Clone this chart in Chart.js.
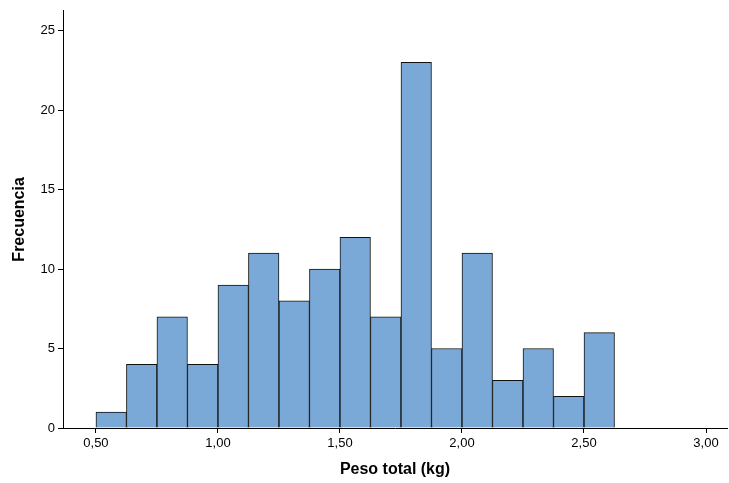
<!DOCTYPE html>
<html><head><meta charset="utf-8">
<script src="https://cdn.jsdelivr.net/npm/chart.js@4"></script>
<style>html,body{margin:0;padding:0;background:#fff}#wrap{width:729px;height:483px}</style>
</head><body><div id="wrap"><canvas id="c"></canvas></div>
<script>
// bin centres (kg) and counts, bin width 0.125
var binCenters = [0.5625,0.6875,0.8125,0.9375,1.0625,1.1875,1.3125,1.4375,1.5625,1.6875,1.8125,1.9375,2.0625,2.1875,2.3125,2.4375,2.5625];
var counts = [1,4,7,4,9,11,8,10,12,7,23,5,11,3,5,2,6];
var xTicks = [0.5,1.0,1.5,2.0,2.5,3.0];
var yTicks = [0,5,10,15,20,25];

var pts = [];
for (var i = 0; i < binCenters.length; i++) pts.push({x: binCenters[i], y: counts[i]});

Chart.defaults.font.family = "'Liberation Sans', Arial, sans-serif";
Chart.defaults.color = "#000";

new Chart(document.getElementById('c'), {
  type: 'bar',
  data: {datasets: [{data: pts, backgroundColor: '#7BA9D7', borderColor: '#111', borderWidth: 1,
    barPercentage: 1, categoryPercentage: 1}]},
  options: {
    responsive: true, maintainAspectRatio: false, animation: false,
    layout: {padding: {top: 10, right: 2, left: 6, bottom: 0}},
    plugins: {legend: {display: false}, tooltip: {enabled: false}},
    scales: {
      x: {
        type: 'linear', min: 0.365, max: 3.086, offset: false,
        afterBuildTicks: function(s){ s.ticks = xTicks.map(function(v){return {value: v};}); },
        afterFit: function(s){ s.height = 55; },
        grid: {display: true, offset: false, drawOnChartArea: false, drawTicks: true, tickLength: 5, color: '#000'},
        border: {color: '#000'},
        ticks: {font: {size: 13}, padding: 3, maxRotation: 0,
          callback: function(v){ return v.toFixed(2).replace('.', ','); }},
        title: {display: true, text: 'Peso total (kg)', font: {size: 16, weight: 'bold'}, padding: {top: 6}}
      },
      y: {
        min: 0, max: 26.25,
        afterBuildTicks: function(s){ s.ticks = yTicks.map(function(v){return {value: v};}); },
        afterFit: function(s){ s.width = 57; },
        grid: {display: true, drawOnChartArea: false, drawTicks: true, tickLength: 5, color: '#000'},
        border: {color: '#000'},
        ticks: {font: {size: 13}, padding: 3},
        title: {display: true, text: 'Frecuencia', font: {size: 16, weight: 'bold'}, padding: {bottom: 4}}
      }
    }
  }
});
</script></body></html>
